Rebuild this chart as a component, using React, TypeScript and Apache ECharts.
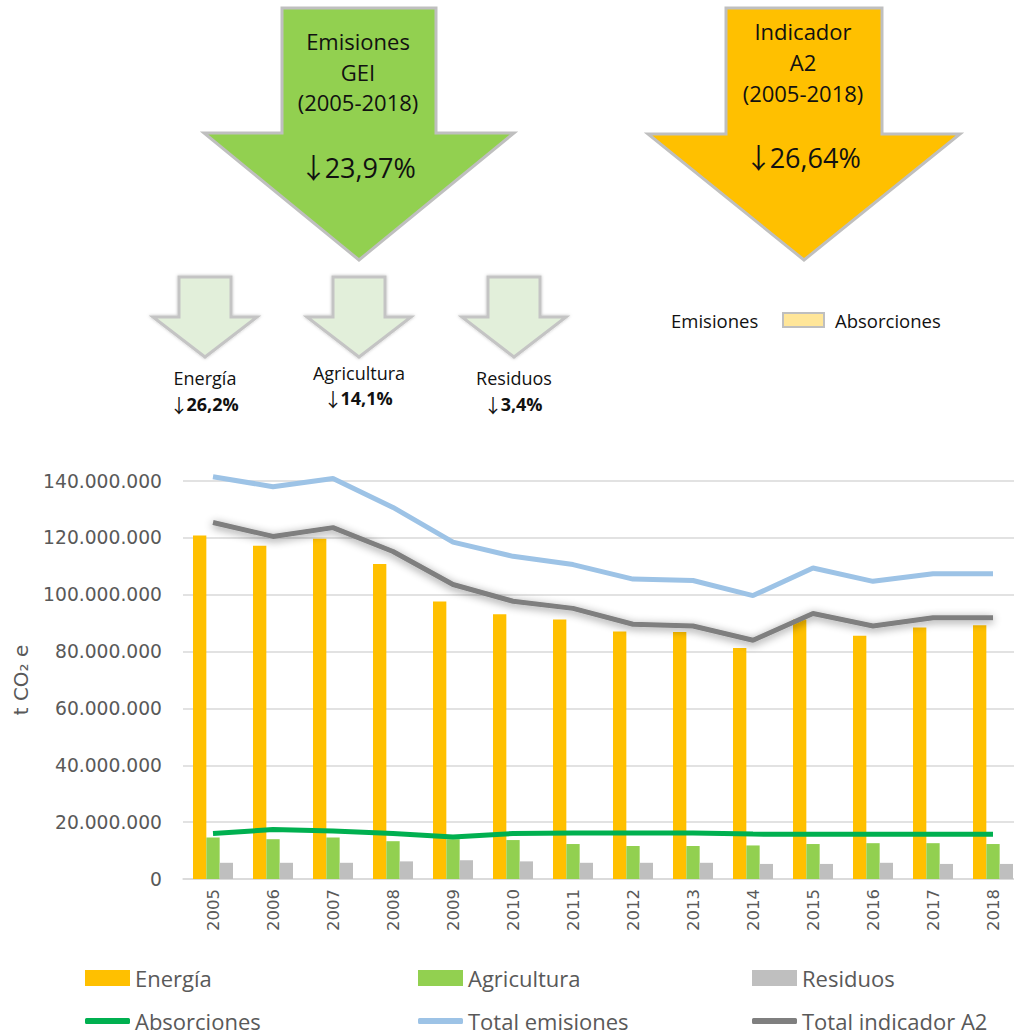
import React, { useEffect, useRef } from "react";
import * as echarts from "echarts";

const years = ["2005","2006","2007","2008","2009","2010","2011","2012","2013","2014","2015","2016","2017","2018"];
const energia = [120800000,117200000,119700000,110800000,97600000,93100000,91300000,87100000,86900000,81300000,91300000,85600000,88500000,89300000];
const agricultura = [14600000,14000000,14600000,13300000,14000000,13700000,12300000,11600000,11600000,11800000,12300000,12600000,12600000,12300000];
const residuos = [5700000,5700000,5700000,6200000,6600000,6200000,5700000,5700000,5700000,5300000,5300000,5700000,5300000,5300000];
const absorciones = [16000000,17400000,16900000,16000000,14800000,16000000,16200000,16200000,16200000,15800000,15700000,15700000,15700000,15700000];
const totalEmisiones = [141500000,138000000,140900000,130700000,118500000,113500000,110600000,105500000,105000000,99700000,109400000,104700000,107400000,107400000];
const totalA2 = [125400000,120500000,123600000,115200000,103600000,97700000,95200000,89600000,89000000,84000000,93400000,89000000,91900000,91900000];
const yTicks = { min: 0, max: 140000000, interval: 20000000 };

const bigArrows = [
  { title: ["Emisiones", "GEI", "(2005-2018)"], pct: "23,97%", fill: "#92D050" },
  { title: ["Indicador", "A2", "(2005-2018)"], pct: "26,64%", fill: "#FFC000" },
];
const smallArrows = [
  { label: "Energía", pct: "26,2%" },
  { label: "Agricultura", pct: "14,1%" },
  { label: "Residuos", pct: "3,4%" },
];

const CAL = '"Open Sans", "DejaVu Sans", sans-serif';
const AXF = '"DejaVu Sans", sans-serif';
const ARF = '"Noto Sans CJK SC", "DejaVu Sans", sans-serif';

function fmt(v: number) {
  return String(v).replace(/\B(?=(\d{3})+(?!\d))/g, ".");
}

function arrowPts(cx: number, top: number, shaftHalf: number, headTop: number, headHalf: number, tip: number) {
  return [
    [cx - shaftHalf, top], [cx + shaftHalf, top], [cx + shaftHalf, headTop],
    [cx + headHalf, headTop], [cx, tip], [cx - headHalf, headTop], [cx - shaftHalf, headTop],
  ];
}

function txt(text: string, x: number, y: number, size: number, opts: any = {}) {
  return {
    type: "text",
    z: 10,
    style: {
      text, x, y,
      textAlign: opts.align || "center",
      textVerticalAlign: "middle",
      fontSize: size,
      fontFamily: opts.family || CAL,
      fontWeight: opts.weight || "normal",
      fill: opts.fill || "#111111",
    },
  };
}

function pctTxt(value: string, x: number, y: number, size: number, arrowSize: number, weight: string) {
  return {
    type: "text",
    z: 10,
    style: {
      text: "{a|↓}{b|" + value + "}",
      x, y,
      textAlign: "center",
      textVerticalAlign: "middle",
      rich: {
        a: { fontSize: arrowSize, fontFamily: ARF, fill: "#111111", verticalAlign: "middle", width: arrowSize * 0.8 },
        b: { fontSize: size, fontFamily: CAL, fontWeight: weight, fill: "#111111", verticalAlign: "middle" },
      },
    },
  };
}

export default function App() {
  const ref = useRef<HTMLDivElement>(null);
  useEffect(() => {
    if (!ref.current) return;
    const chart = echarts.init(ref.current, undefined, { renderer: "svg" });

    const graphics: any[] = [];
    const bigPos = [
      { cx: 359, top: 8, sh: 77, ht: 133, hh: 155, tip: 260, ty: [41, 72, 102], py: 167 },
      { cx: 804, top: 8, sh: 78, ht: 134, hh: 156, tip: 260, ty: [31, 62, 93], py: 157 },
    ];
    bigArrows.forEach((a, i) => {
      const p = bigPos[i];
      graphics.push({
        type: "polygon",
        shape: { points: arrowPts(p.cx, p.top, p.sh, p.ht, p.hh, p.tip) },
        style: { fill: a.fill, stroke: "#BFBFBF", lineWidth: 3 },
      });
      a.title.forEach((t, j) => graphics.push(txt(t, p.cx - 1, p.ty[j], 22)));
      graphics.push(pctTxt(a.pct, p.cx, p.py, 27, 28, "normal"));
    });
    const smallCx = [205, 359, 514];
    const labelY = [[378, 404], [373, 398], [378, 404]];
    smallArrows.forEach((a, i) => {
      const cx = smallCx[i];
      graphics.push({
        type: "polygon",
        shape: { points: arrowPts(cx, 277, 26, 317, 52, 357) },
        style: { fill: "#E2EFDA", stroke: "#C4C4C4", lineWidth: 3, shadowBlur: 3, shadowColor: "rgba(0,0,0,0.25)" },
      });
      graphics.push(txt(a.label, cx, labelY[i][0], 18));
      graphics.push(pctTxt(a.pct, cx, labelY[i][1], 18, 19, "bold"));
    });
    graphics.push(txt("Emisiones", 671, 320, 18.5, { align: "left" }));
    graphics.push({
      type: "rect",
      shape: { x: 783, y: 313, width: 41, height: 14 },
      style: { fill: "#FFE699", stroke: "#BFBFBF", lineWidth: 2 },
    });
    graphics.push(txt("Absorciones", 835, 320, 18.5, { align: "left" }));

    const legendText = { fontSize: 22, fontFamily: CAL, color: "#595959" };
    const legendCols = [80, 413, 747];
    const barNames = ["Energía", "Agricultura", "Residuos"];
    const lineNames = ["Absorciones", "Total emisiones", "Total indicador A2"];
    const legends: any[] = [];
    barNames.forEach((n, i) =>
      legends.push({
        data: [{ name: n, icon: "rect" }],
        left: legendCols[i], top: 962, itemWidth: 45, itemHeight: 16, itemGap: 6,
        textStyle: legendText, selectedMode: false,
      })
    );
    lineNames.forEach((n, i) =>
      legends.push({
        data: [{ name: n, icon: "roundRect" }],
        left: legendCols[i], top: 1005, itemWidth: 45, itemHeight: 6, itemGap: 6,
        textStyle: legendText, selectedMode: false,
      })
    );

    chart.setOption({
      animation: false,
      backgroundColor: "#ffffff",
      graphic: graphics,
      legend: legends,
      grid: { left: 183, top: 481, right: 7, height: 398, containLabel: false },
      xAxis: {
        type: "category",
        data: years,
        axisLine: { lineStyle: { color: "#D9D9D9", width: 1.5 } },
        axisTick: { show: false },
        axisLabel: { rotate: 90, margin: 10, fontSize: 16.5, fontFamily: AXF, color: "#595959" },
      },
      yAxis: {
        type: "value",
        min: yTicks.min, max: yTicks.max, interval: yTicks.interval,
        name: "t CO₂ e",
        nameLocation: "middle",
        nameRotate: 90,
        nameGap: 152,
        nameTextStyle: { fontSize: 20, fontFamily: AXF, color: "#595959" },
        axisLine: { show: false },
        axisTick: { show: false },
        splitLine: { lineStyle: { color: "#D9D9D9", width: 1.5 } },
        axisLabel: { formatter: (v: number) => fmt(v), margin: 21, fontSize: 18.7, fontFamily: AXF, color: "#595959" },
      },
      series: [
        { name: "Energía", type: "bar", data: energia, barWidth: 13.33, barGap: "0%", itemStyle: { color: "#FFC000" }, z: 2 },
        { name: "Agricultura", type: "bar", data: agricultura, barWidth: 13.33, barGap: "0%", itemStyle: { color: "#92D050" }, z: 2 },
        { name: "Residuos", type: "bar", data: residuos, barWidth: 13.33, barGap: "0%", itemStyle: { color: "#BFBFBF" }, z: 2 },
        { name: "Absorciones", type: "line", data: absorciones, symbol: "none", clip: false, lineStyle: { color: "#00B050", width: 5 }, itemStyle: { color: "#00B050" }, z: 5 },
        { name: "Total emisiones", type: "line", data: totalEmisiones, symbol: "none", clip: false, lineStyle: { color: "#9DC3E6", width: 5 }, itemStyle: { color: "#9DC3E6" }, z: 5 },
        {
          name: "Total indicador A2", type: "line", data: totalA2, symbol: "none", clip: false,
          lineStyle: { color: "#7F7F7F", width: 5, shadowBlur: 9, shadowColor: "rgba(0,0,0,0.45)", shadowOffsetY: 2 },
          itemStyle: { color: "#7F7F7F" }, z: 6,
        },
      ],
    });
    return () => chart.dispose();
  }, []);

  return (
    <div style={{ position: "fixed", left: 0, top: 0, width: 1014, height: 1034, overflow: "hidden", background: "#fff" }}>
      <div ref={ref} style={{ width: 1030, height: 1034 }} />
    </div>
  );
}
